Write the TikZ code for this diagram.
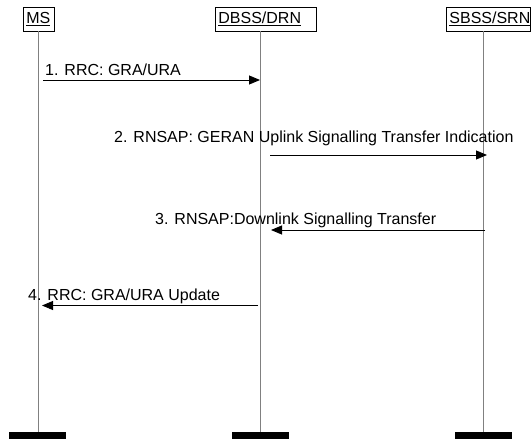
\documentclass[tikz,border=0pt]{standalone}
\usepackage{fontspec}
\setmainfont{Liberation Sans}
\usetikzlibrary{arrows.meta}
\newcommand\thickul[1]{\leavevmode\setbox0=\hbox{#1}\rlap{\raisebox{-2.6pt}{\rule{\wd0}{1.6pt}}}\box0}
\tikzset{
  hdr/.style={draw=black, line width=0.8pt, anchor=north west, minimum height=24pt, inner xsep=3pt, inner ysep=0pt, align=left, font=\fontsize{16}{18}\selectfont},
  life/.style={draw=gray, line width=1.1pt},
  bar/.style={fill=black, draw=none},
  msg/.style={draw=black, line width=0.9pt, -{Triangle[length=11pt,width=9pt]}},
  lbl/.style={anchor=base west, inner sep=0pt, font=\fontsize{16}{18}\selectfont}
}
\begin{document}
\begin{tikzpicture}[x=1pt,y=-1pt]
\useasboundingbox (0,0) rectangle (532,439);
% headers
\node[hdr, text width=25pt] (ms) at (23,7) {\thickul{MS}};
\node[hdr, text width=95pt] (dbss) at (215,7) {\thickul{DBSS/DRN}};
\node[hdr, text width=78pt] (sbss) at (446,7) {\thickul{SBSS/SRN}};
% lifeline tops and bottoms
\coordinate (msTop) at (38.5,31);
\coordinate (dbTop) at (260.5,31);
\coordinate (sbTop) at (483.5,31);
\coordinate (msBot) at (38.5,432);
\coordinate (dbBot) at (260.5,432);
\coordinate (sbBot) at (483.5,432);
\draw[life] (msTop) -- (msBot);
\draw[life] (dbTop) -- (dbBot);
\draw[life] (sbTop) -- (sbBot);
% bars
\fill[bar] (9,432) rectangle (66,439);
\fill[bar] (232,432) rectangle (289,439);
\fill[bar] (455,432) rectangle (512,439);
% messages
\coordinate (m1s) at (43,80);
\coordinate (m1e) at (260,80);
\coordinate (m2s) at (270,155);
\coordinate (m2e) at (487,155);
\coordinate (m3s) at (485,230);
\coordinate (m3e) at (271,230);
\coordinate (m4s) at (258,305.5);
\coordinate (m4e) at (42,305.5);
\draw[msg] (m1s) -- (m1e);
\draw[msg] (m2s) -- (m2e);
\draw[msg] (m3s) -- (m3e);
\draw[msg] (m4s) -- (m4e);
\node[lbl] (l1) at (45,75) {1. RRC: GRA/URA};
\node[lbl] (l2) at (114,142.5) {2. RNSAP: GERAN Uplink Signalling Transfer Indication};
\node[lbl] (l3) at (155,224.5) {3. RNSAP:Downlink Signalling Transfer};
\node[lbl] (l4) at (28,300) {4. RRC: GRA/URA Update};
\end{tikzpicture}
\end{document}
